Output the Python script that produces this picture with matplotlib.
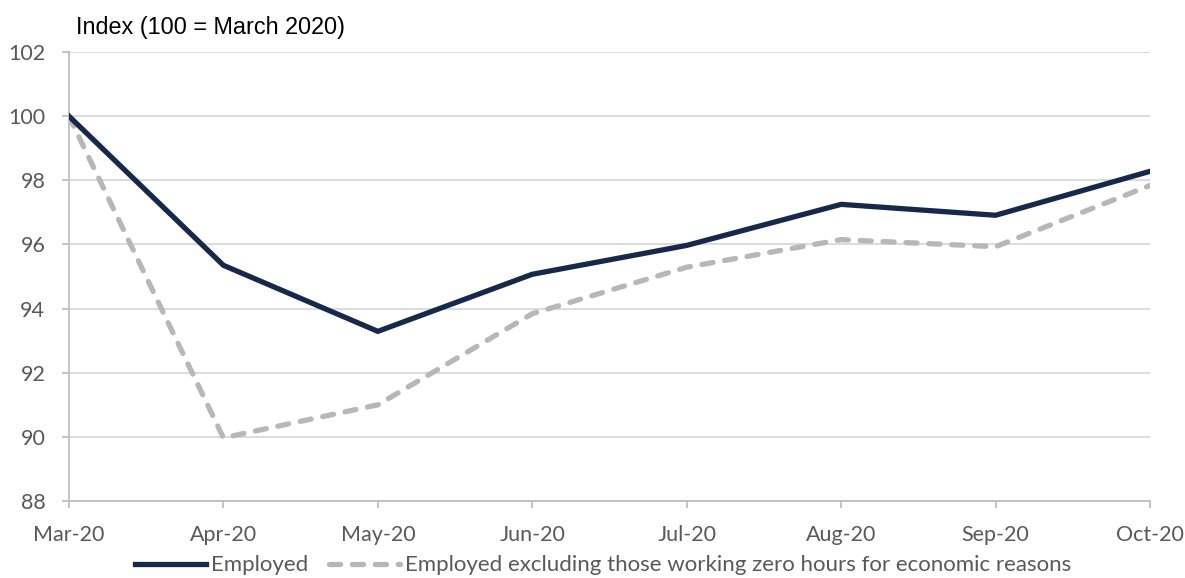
import matplotlib
matplotlib.use("Agg")
import matplotlib.pyplot as plt

months = ["Mar-20", "Apr-20", "May-20", "Jun-20", "Jul-20", "Aug-20", "Sep-20", "Oct-20"]
employed = [100.0, 95.35, 93.29, 95.07, 95.97, 97.25, 96.91, 98.28]
employed_excl_zero = [100.0, 89.97, 91.0, 93.84, 95.29, 96.15, 95.93, 97.84]
yticks = [88, 90, 92, 94, 96, 98, 100, 102]

navy = "#17294b"
grey = "#b7b7b7"
tick_grey = "#595959"

plt.rcParams["lines.scale_dashes"] = False

fig = plt.figure(figsize=(11.85, 5.78), dpi=100)
ax = fig.add_axes([0.0582, 0.1332, 0.9123, 0.7768])

x = list(range(len(months)))
ax.plot(x, employed, color=navy, lw=3.8, solid_joinstyle="miter",
        label="Employed", zorder=3)
ax.plot(x, employed_excl_zero, color=grey, lw=3.8, dashes=(8, 8.5),
        dash_capstyle="round", dash_joinstyle="round",
        label="Employed excluding those working zero hours for economic reasons", zorder=2)

ax.set_xlim(0, len(months) - 1)
ax.set_ylim(88, 102)
ax.set_xticks(x)
ax.set_xticklabels(months)
ax.set_yticks(yticks)

ax.grid(axis="y", color="#d9d9d9", lw=1.3)
ax.set_axisbelow(True)
for s in ["top", "right"]:
    ax.spines[s].set_visible(False)
for s in ["left", "bottom"]:
    ax.spines[s].set_color("#bfbfbf")
    ax.spines[s].set_linewidth(1.3)

ax.tick_params(axis="both", colors="#bfbfbf", labelcolor=tick_grey,
               labelsize=15.5, length=5, width=1.3, direction="out")
ax.tick_params(axis="x", pad=12)
ax.tick_params(axis="y", pad=12)
for lab in ax.get_xticklabels() + ax.get_yticklabels():
    lab.set_fontfamily("Lato")

fig.text(0.064, 0.953, "Index (100 = March 2020)", fontsize=16.8,
         family="Liberation Sans", color="black", va="center", ha="left")

# legend sits right at the bottom edge, below the month labels
leg = fig.legend(loc="center", bbox_to_anchor=(0.509, 0.022), ncol=2, frameon=False,
                 prop={"family": "Lato", "size": 16}, handlelength=3.2,
                 handletextpad=0.25, columnspacing=0.9, borderpad=0)
for t in leg.get_texts():
    t.set_color(tick_grey)

fig.savefig("out.png", dpi=100)
